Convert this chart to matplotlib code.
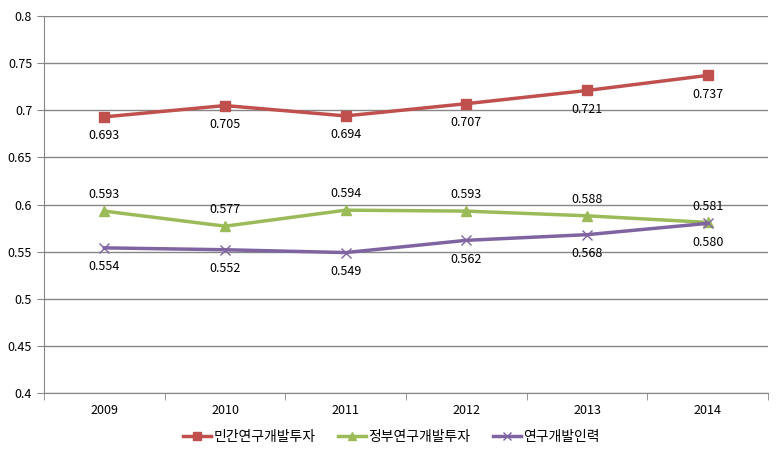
import matplotlib
matplotlib.use('Agg')
import matplotlib.pyplot as plt
import numpy as np

plt.rcParams['font.family'] = ['Noto Sans CJK KR', 'DejaVu Sans']

years = ['2009', '2010', '2011', '2012', '2013', '2014']
private_rd = [0.693, 0.705, 0.694, 0.707, 0.721, 0.737]
gov_rd = [0.593, 0.577, 0.594, 0.593, 0.588, 0.581]
rd_people = [0.554, 0.552, 0.549, 0.562, 0.568, 0.580]
names = ['민간연구개발투자', '정부연구개발투자', '연구개발인력']

fig = plt.figure(figsize=(7.83, 4.59), dpi=100)
ax = fig.add_axes([0.0562, 0.1438, 0.9248, 0.8213])

x = np.arange(len(years))
ax.plot(x, private_rd, '-s', color='#C0504D', lw=2.5, ms=7, label=names[0])
ax.plot(x, gov_rd, '-^', color='#9BBB59', lw=2.5, ms=7, label=names[1])
ax.plot(x, rd_people, '-x', color='#8064A2', lw=2.5, ms=7, mew=1, label=names[2])

for i in range(len(years)):
    ax.annotate(f'{private_rd[i]:.3f}', (x[i], private_rd[i]), xytext=(0, -9),
                textcoords='offset points', ha='center', va='top', fontsize=9)
    ax.annotate(f'{gov_rd[i]:.3f}', (x[i], gov_rd[i]), xytext=(0, 7),
                textcoords='offset points', ha='center', va='bottom', fontsize=9)
    ax.annotate(f'{rd_people[i]:.3f}', (x[i], rd_people[i]), xytext=(0, -9),
                textcoords='offset points', ha='center', va='top', fontsize=9)

ax.set_xlim(-0.5, len(years) - 0.5)
ax.set_ylim(0.4, 0.8)
ax.set_yticks(np.arange(0.4, 0.81, 0.05))
ax.set_yticklabels(['0.4', '0.45', '0.5', '0.55', '0.6', '0.65', '0.7', '0.75', '0.8'])
ax.set_xticks(x)
ax.set_xticklabels(years)
ax.set_xticks(np.arange(-0.5, len(years), 1), minor=True)
ax.tick_params(axis='x', which='major', length=0, pad=8, labelsize=9)
ax.tick_params(axis='x', which='minor', length=5, color='#868686')
ax.tick_params(axis='y', length=5, color='#868686', labelsize=9)
ax.yaxis.grid(True, color='#868686', lw=1)
ax.set_axisbelow(True)
for s in ['top', 'right']:
    ax.spines[s].set_visible(False)
for s in ['left', 'bottom']:
    ax.spines[s].set_color('#868686')

fig.legend(loc='center', bbox_to_anchor=(0.5, 0.048), ncol=3, frameon=False,
           fontsize=10, handlelength=2.0, columnspacing=1.6, handletextpad=0.2,
           markerscale=0.8)

fig.savefig('out.png', dpi=100)
